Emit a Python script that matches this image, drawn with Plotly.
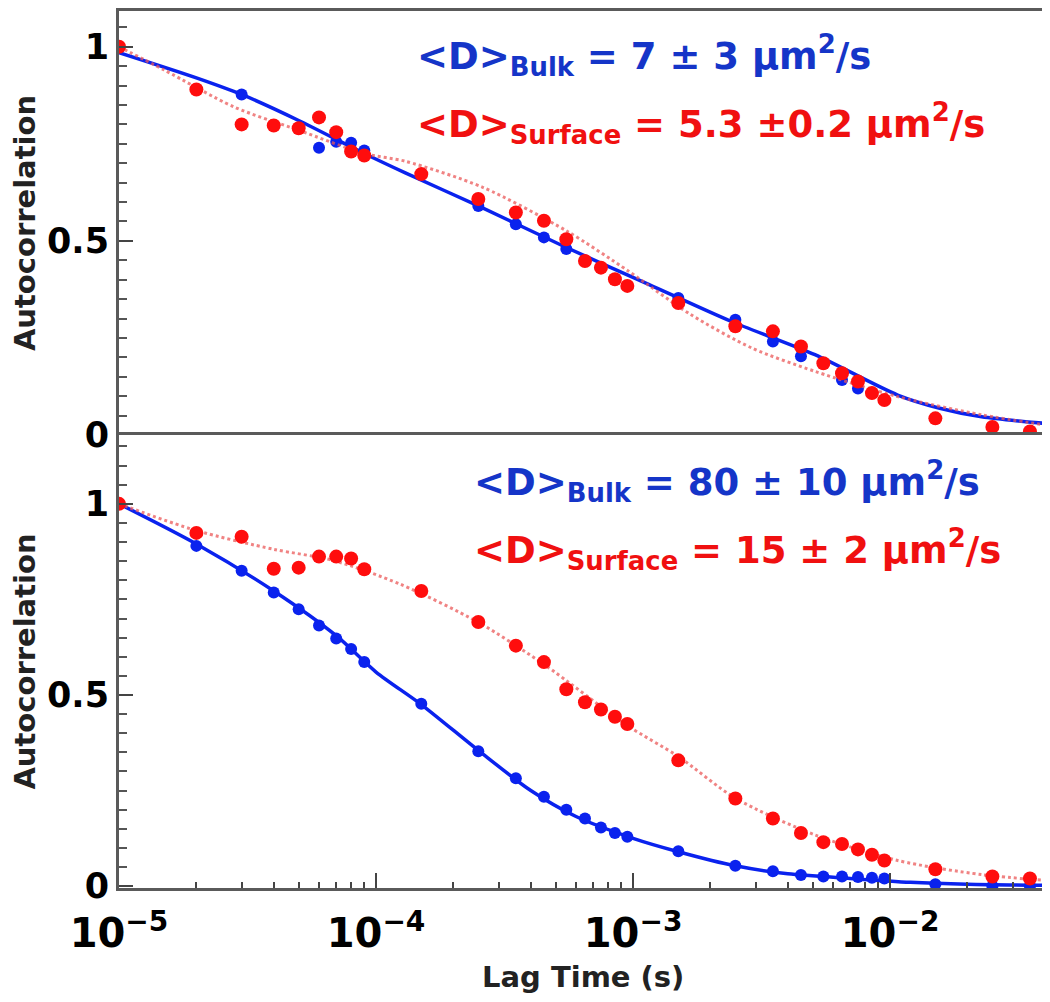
import plotly.graph_objects as go
from plotly.subplots import make_subplots

# ---------------- data ----------------
# Top panel
lag_top_blue = [3e-5, 6e-5, 7e-5, 8e-5, 9e-5, 2.5e-4, 3.5e-4, 4.5e-4, 5.5e-4,
                1.5e-3, 2.5e-3, 3.5e-3, 4.5e-3, 6.5e-3, 7.5e-3]
g_top_blue = [0.877, 0.74, 0.755, 0.753, 0.733, 0.59, 0.543, 0.509, 0.479,
              0.353, 0.297, 0.241, 0.203, 0.142, 0.12]

lag_top_red = [1e-5, 2e-5, 3e-5, 4e-5, 5e-5, 6e-5, 7e-5, 8e-5, 9e-5,
               1.5e-4, 2.5e-4, 3.5e-4, 4.5e-4, 5.5e-4, 6.5e-4, 7.5e-4, 8.5e-4, 9.5e-4,
               1.5e-3, 2.5e-3, 3.5e-3, 4.5e-3, 5.5e-3, 6.5e-3, 7.5e-3, 8.5e-3, 9.5e-3,
               1.5e-2, 2.5e-2, 3.5e-2]
g_top_red = [1.0, 0.89, 0.80, 0.797, 0.79, 0.818, 0.78, 0.73, 0.72,
             0.672, 0.608, 0.573, 0.552, 0.504, 0.448, 0.431, 0.401, 0.384,
             0.340, 0.28, 0.267, 0.228, 0.185, 0.159, 0.138, 0.108, 0.09,
             0.043, 0.021, 0.009]

fit_lag_top_blue = [1e-5, 2e-5, 3e-5, 5e-5, 9e-5, 1.3e-4, 2.5e-4, 5.5e-4, 1.15e-3,
                    2.4e-3, 5.1e-3, 1.07e-2, 1.56e-2, 2.27e-2, 4e-2]
fit_top_blue = [0.985, 0.92, 0.877, 0.81, 0.725, 0.675, 0.59, 0.483, 0.388,
                0.293, 0.207, 0.103, 0.069, 0.047, 0.03]

fit_lag_top_red = [1e-5, 1.5e-5, 2.8e-5, 5e-5, 9e-5, 1.3e-4, 2.6e-4, 5.5e-4, 9.6e-4,
                   1.67e-3, 2.9e-3, 5.1e-3, 1.07e-2, 2.27e-2, 4e-2]
fit_top_red = [1.0, 0.94, 0.845, 0.785, 0.725, 0.705, 0.638, 0.526, 0.422,
               0.311, 0.224, 0.164, 0.099, 0.052, 0.026]

# Bottom panel
lag_bot = [1e-5, 2e-5, 3e-5, 4e-5, 5e-5, 6e-5, 7e-5, 8e-5, 9e-5,
           1.5e-4, 2.5e-4, 3.5e-4, 4.5e-4, 5.5e-4, 6.5e-4, 7.5e-4, 8.5e-4, 9.5e-4,
           1.5e-3, 2.5e-3, 3.5e-3, 4.5e-3, 5.5e-3, 6.5e-3, 7.5e-3, 8.5e-3, 9.5e-3,
           1.5e-2, 2.5e-2, 3.5e-2]
g_bot_blue = [1.0, 0.89, 0.825, 0.768, 0.724, 0.682, 0.648, 0.62, 0.586,
              0.477, 0.353, 0.282, 0.234, 0.2, 0.177, 0.153, 0.139, 0.129,
              0.091, 0.053, 0.039, 0.029, 0.025, 0.025, 0.024, 0.022, 0.02,
              0.005, 0.0, 0.0]
g_bot_red = [1.0, 0.924, 0.914, 0.83, 0.833, 0.862, 0.862, 0.857, 0.829,
             0.772, 0.691, 0.629, 0.586, 0.515, 0.481, 0.462, 0.443, 0.424,
             0.329, 0.229, 0.177, 0.139, 0.115, 0.11, 0.096, 0.082, 0.067,
             0.044, 0.025, 0.02]

fit_lag_bot_blue = [1e-5, 2e-5, 4e-5, 7e-5, 1e-4, 1.5e-4, 2.5e-4, 4e-4, 6e-4, 1e-3,
                    1.5e-3, 2.5e-3, 4e-3, 7e-3, 1.2e-2, 2e-2, 4e-2]
fit_bot_blue = [1.0, 0.895, 0.772, 0.655, 0.56, 0.475, 0.355, 0.25, 0.182, 0.125,
                0.09, 0.053, 0.032, 0.02, 0.01, 0.005, 0.002]

fit_lag_bot_red = [1e-5, 2e-5, 4e-5, 6.8e-5, 1.24e-4, 2.5e-4, 4.5e-4, 9.5e-4, 1.5e-3,
                   2.5e-3, 5.1e-3, 1.07e-2, 2.27e-2, 4e-2]
fit_bot_red = [1.0, 0.93, 0.881, 0.852, 0.79, 0.69, 0.58, 0.42, 0.339,
               0.23, 0.134, 0.067, 0.03, 0.015]

y_ticks = [0, 0.5, 1]
y_ticklabels = ["0", "0.5", "1"]

x_title = "Lag Time (s)"
y_title = "Autocorrelation"
label_top_bulk = "&lt;D&gt;<sub>Bulk</sub> = 7 ± 3 μm<sup>2</sup>/s"
label_top_surf = "&lt;D&gt;<sub>Surface</sub> = 5.3 ±0.2 μm<sup>2</sup>/s"
label_bot_bulk = "&lt;D&gt;<sub>Bulk</sub> = 80 ± 10 μm<sup>2</sup>/s"
label_bot_surf = "&lt;D&gt;<sub>Surface</sub> = 15 ± 2 μm<sup>2</sup>/s"

# ---------------- styles ----------------
BLUE = "#0a22ee"
RED = "#ff0d0d"
FIT_RED = "rgba(235,90,90,0.75)"
TXT_BLUE = "#1535c8"
TXT_RED = "#f01010"
FRAME = "#5a5a5a"
FONT = "DejaVu Sans"

fig = make_subplots(rows=2, cols=1, shared_xaxes=True, vertical_spacing=0)

def add_panel(row, fx_b, fy_b, fx_r, fy_r, xb, yb, xr, yr):
    fig.add_trace(go.Scatter(x=fx_b, y=fy_b, mode="lines", line=dict(color=BLUE, width=3.5, shape="spline", smoothing=0.8),
                             showlegend=False, hoverinfo="skip"), row=row, col=1)
    fig.add_trace(go.Scatter(x=xb, y=yb, mode="markers", marker=dict(color=BLUE, size=12),
                             showlegend=False), row=row, col=1)
    fig.add_trace(go.Scatter(x=fx_r, y=fy_r, mode="lines", line=dict(color=FIT_RED, width=3, dash="dot", shape="spline", smoothing=0.8),
                             showlegend=False, hoverinfo="skip"), row=row, col=1)
    fig.add_trace(go.Scatter(x=xr, y=yr, mode="markers", marker=dict(color=RED, size=14),
                             showlegend=False), row=row, col=1)

add_panel(1, fit_lag_top_blue, fit_top_blue, fit_lag_top_red, fit_top_red,
          lag_top_blue, g_top_blue, lag_top_red, g_top_red)
add_panel(2, fit_lag_bot_blue, fit_bot_blue, fit_lag_bot_red, fit_bot_red,
          lag_bot, g_bot_blue, lag_bot, g_bot_red)

split = 0.5165
xcommon = dict(type="log", range=[-5, -1.409], showline=True, linecolor=FRAME, linewidth=3,
               showgrid=False, zeroline=False, automargin=False)
fig.update_xaxes(**xcommon)
# top panel: only its upper frame line (the shared divider comes from the lower panel)
fig.update_xaxes(row=1, col=1, side="top", mirror=False, showticklabels=False, ticks="")
fig.update_xaxes(row=2, col=1, mirror=True, dtick=1, ticks="inside", ticklen=15, tickwidth=2, tickcolor="#444",
                 exponentformat="power", showexponent="all", ticklabelstandoff=10,
                 tickfont=dict(family=FONT, size=32, color="black", weight="bold"),
                 minor=dict(ticks="inside", ticklen=6, tickwidth=1.5, tickcolor="#444", dtick="D1"))

ycommon = dict(showline=True, linecolor=FRAME, linewidth=3, mirror=True, showgrid=False, zeroline=False,
               automargin=False,
               tickvals=y_ticks, ticktext=y_ticklabels, ticks="inside", ticklen=14, tickwidth=2, tickcolor="#444",
               tickfont=dict(family=FONT, size=35, color="black", weight="bold"),
               minor=dict(ticks="inside", ticklen=8, tickwidth=2, tickcolor="#555", dtick=0.05, tick0=0),
               title=dict(text=y_title, font=dict(family=FONT, size=29, color="#222", weight="bold"),
                          standoff=14))
fig.update_yaxes(**ycommon)
fig.update_yaxes(row=1, col=1, range=[0, 1.092], domain=[split, 1.0])
fig.update_yaxes(row=2, col=1, range=[-0.005, 1.180], domain=[0.0, split])

def ann(text, x, y, color, size=37, xanchor="left"):
    fig.add_annotation(text=text, x=x, y=y, xref="paper", yref="paper", xanchor=xanchor, yanchor="middle",
                       showarrow=False, font=dict(family=FONT, size=size, color=color, weight="bold"))

# plot area spans page y 11..888 (877 px), x 119..1042
ann(label_top_bulk, 0.3207, 0.9498, TXT_BLUE)
ann(label_top_surf, 0.3207, 0.8717, TXT_RED)
ann(label_bot_bulk, 0.3824, 0.4630, TXT_BLUE)
ann(label_bot_surf, 0.3824, 0.3860, TXT_RED)
ann(x_title, 0.503, -0.1015, "#222", size=29, xanchor="center")

# page body adds an 8px margin, so the figure is sized to fit inside the window
fig.update_layout(width=1034, height=986, margin=dict(l=111, r=0, t=3, b=106),
                  plot_bgcolor="white", paper_bgcolor="white")

fig.write_html("out.html")
